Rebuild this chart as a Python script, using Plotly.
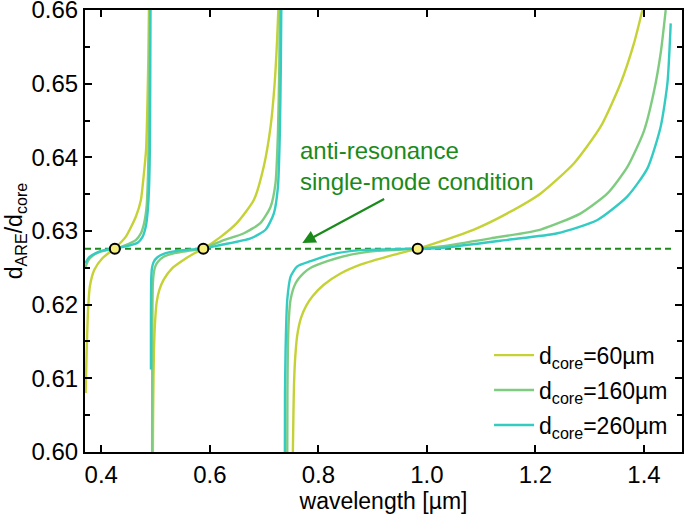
import plotly.graph_objects as go

# ---------------- data ----------------
series_names = ["d<sub>core</sub>=60µm", "d<sub>core</sub>=160µm", "d<sub>core</sub>=260µm"]
series_colors = ["#c5d236", "#7fcc80", "#34cbc3"]

# d_core = 60 µm  (three branches)
wl_60_b1 = [0.3712, 0.3725, 0.3740, 0.3760, 0.3790, 0.3870, 0.4020, 0.4240, 0.4450, 0.4640, 0.4730, 0.4780, 0.4825, 0.4852, 0.4868, 0.4878]
r_60_b1 = [0.6080, 0.6120, 0.6160, 0.6198, 0.6225, 0.6247, 0.6263, 0.6276, 0.6292, 0.6320, 0.6342, 0.6374, 0.6410, 0.6478, 0.6540, 0.6600]
wl_60_b2 = [0.4950, 0.4955, 0.4962, 0.4972, 0.4990, 0.5020, 0.5070, 0.5150, 0.5300, 0.5500, 0.5700, 0.5880, 0.6200, 0.6500, 0.6810, 0.6995, 0.7120, 0.7195, 0.7240, 0.7262]
r_60_b2 = [0.6000, 0.6050, 0.6100, 0.6140, 0.6175, 0.6203, 0.6220, 0.6234, 0.6249, 0.6260, 0.6269, 0.6276, 0.6292, 0.6311, 0.6342, 0.6388, 0.6442, 0.6501, 0.6560, 0.6600]
wl_60_b3 = [0.7530, 0.7540, 0.7552, 0.7575, 0.7610, 0.7680, 0.7780, 0.7900, 0.8100, 0.8400, 0.8800, 0.9300, 0.9830, 1.0253, 1.0867, 1.1482, 1.2096, 1.2711, 1.3203, 1.3571, 1.3816, 1.3971]
r_60_b3 = [0.6000, 0.6050, 0.6094, 0.6130, 0.6158, 0.6182, 0.6199, 0.6212, 0.6227, 0.6242, 0.6255, 0.6266, 0.6276, 0.6286, 0.6302, 0.6324, 0.6351, 0.6392, 0.6442, 0.6501, 0.6555, 0.6600]

# d_core = 160 µm
wl_160_b1 = [0.3705, 0.3760, 0.3850, 0.3950, 0.4100, 0.4250, 0.4450, 0.4640, 0.4730, 0.4790, 0.4835, 0.4860, 0.4875, 0.4885, 0.4895]
r_160_b1 = [0.6250, 0.6260, 0.6267, 0.6271, 0.6274, 0.6276, 0.6281, 0.6288, 0.6297, 0.6311, 0.6333, 0.6374, 0.6430, 0.6510, 0.6600]
wl_160_b2 = [0.4937, 0.4938, 0.4940, 0.4943, 0.4950, 0.4965, 0.4990, 0.5040, 0.5150, 0.5350, 0.5600, 0.5880, 0.6200, 0.6630, 0.6935, 0.7120, 0.7210, 0.7255, 0.7280, 0.7292]
r_160_b2 = [0.6000, 0.6080, 0.6150, 0.6200, 0.6228, 0.6242, 0.6251, 0.6258, 0.6265, 0.6270, 0.6273, 0.6276, 0.6286, 0.6297, 0.6311, 0.6333, 0.6365, 0.6433, 0.6523, 0.6600]
wl_160_b3 = [0.7427, 0.7430, 0.7438, 0.7455, 0.7488, 0.7580, 0.7733, 0.7860, 0.8165, 0.8600, 0.9090, 0.9830, 1.0253, 1.1175, 1.2096, 1.2834, 1.3326, 1.3694, 1.4000, 1.4185, 1.4308, 1.4400]
r_160_b3 = [0.6000, 0.6080, 0.6139, 0.6180, 0.6207, 0.6229, 0.6243, 0.6250, 0.6259, 0.6268, 0.6273, 0.6276, 0.6279, 0.6290, 0.6302, 0.6324, 0.6351, 0.6387, 0.6436, 0.6490, 0.6542, 0.6600]

# d_core = 260 µm
wl_260_b1 = [0.3705, 0.3770, 0.3900, 0.4050, 0.4250, 0.4450, 0.4670, 0.4760, 0.4820, 0.4858, 0.4883, 0.4895, 0.4902, 0.4907]
r_260_b1 = [0.6256, 0.6264, 0.6270, 0.6274, 0.6276, 0.6279, 0.6284, 0.6292, 0.6306, 0.6329, 0.6365, 0.6410, 0.6500, 0.6600]
wl_260_b2 = [0.4915, 0.4915, 0.4917, 0.4922, 0.4935, 0.4965, 0.5030, 0.5150, 0.5400, 0.5650, 0.5880, 0.6200, 0.6750, 0.7030, 0.7180, 0.7255, 0.7290, 0.7308, 0.7317]
r_260_b2 = [0.6112, 0.6170, 0.6215, 0.6238, 0.6250, 0.6258, 0.6264, 0.6269, 0.6273, 0.6275, 0.6276, 0.6281, 0.6290, 0.6302, 0.6324, 0.6360, 0.6433, 0.6523, 0.6600]
wl_260_b3 = [0.7383, 0.7385, 0.7396, 0.7410, 0.7427, 0.7488, 0.7611, 0.7857, 0.8225, 0.8778, 0.9300, 0.9830, 1.0253, 1.1482, 1.2404, 1.3142, 1.3694, 1.4063, 1.4308, 1.4432, 1.4492]
r_260_b3 = [0.6000, 0.6080, 0.6139, 0.6180, 0.6207, 0.6238, 0.6252, 0.6259, 0.6268, 0.6274, 0.6275, 0.6276, 0.6277, 0.6288, 0.6297, 0.6315, 0.6347, 0.6385, 0.6442, 0.6501, 0.6582]

# single-mode condition and crossing points
condition_x = [0.37, 1.45]
condition_y = [0.6276, 0.6276]
crossing_x = [0.425, 0.588, 0.983]
crossing_y = [0.6276, 0.6276, 0.6276]

x_ticks = [0.4, 0.6, 0.8, 1.0, 1.2, 1.4]
x_ticktext = ["0.4", "0.6", "0.8", "1.0", "1.2", "1.4"]
y_ticks = [0.60, 0.61, 0.62, 0.63, 0.64, 0.65, 0.66]
y_ticktext = ["0.60", "0.61", "0.62", "0.63", "0.64", "0.65", "0.66"]

annotation_text = "anti-resonance<br>single-mode condition"

# ---------------- figure ----------------
def joined(*branches):
    xs, ys = [], []
    for bx, by in branches:
        if xs:
            xs.append(None)
            ys.append(None)
        xs.extend(bx)
        ys.extend(by)
    return xs, ys

all_series = [
    joined((wl_60_b1, r_60_b1), (wl_60_b2, r_60_b2), (wl_60_b3, r_60_b3)),
    joined((wl_160_b1, r_160_b1), (wl_160_b2, r_160_b2), (wl_160_b3, r_160_b3)),
    joined((wl_260_b1, r_260_b1), (wl_260_b2, r_260_b2), (wl_260_b3, r_260_b3)),
]

FONT = "Liberation Sans, Arial, sans-serif"
GREEN = "#1a8a1a"

fig = go.Figure()

fig.add_trace(go.Scatter(
    x=condition_x, y=condition_y, mode="lines",
    line=dict(color=GREEN, width=2, dash="6px,4px"),
    showlegend=False, hoverinfo="skip"))

for i, ((xs, ys), name, color) in enumerate(zip(all_series, series_names, series_colors)):
    fig.add_trace(go.Scatter(
        x=xs, y=ys, mode="lines", name=name, legendgroup=f"g{i}",
        line=dict(color=color, width=2.4, shape="spline", smoothing=0.6),
        connectgaps=False))

fig.add_trace(go.Scatter(
    x=crossing_x, y=crossing_y, mode="markers",
    marker=dict(size=10, color="#f6ef7c", line=dict(color="black", width=2)),
    showlegend=False))

fig.add_annotation(
    x=0.7704, y=0.62836, ax=0.9239, ay=0.63446,
    xref="x", yref="y", axref="x", ayref="y",
    text="", showarrow=True, arrowhead=2, arrowsize=1.2, arrowwidth=2.2,
    arrowcolor=GREEN)

fig.add_annotation(
    x=0.7625, y=0.63888, xref="x", yref="y",
    text=annotation_text, showarrow=False,
    xanchor="left", yanchor="middle", align="left",
    font=dict(family=FONT, size=24, color=GREEN))

axis_common = dict(
    showline=True, linecolor="black", linewidth=2, mirror="ticks",
    ticks="inside", tickcolor="black", tickwidth=2, ticklen=7,
    showgrid=False, zeroline=False, automargin=False,
    ticklabeloverflow="allow",
    tickfont=dict(family=FONT, size=24, color="black"),
)

fig.update_xaxes(
    range=[0.37, 1.47], tickvals=x_ticks, ticktext=x_ticktext,
    title=dict(text="wavelength [µm]", font=dict(family=FONT, size=23, color="black"), standoff=4),
    **axis_common)
fig.update_yaxes(
    range=[0.59999, 0.66001], tickvals=y_ticks, ticktext=y_ticktext,
    minor=dict(dtick=0.005, ticks="inside", ticklen=5, tickwidth=2, tickcolor="black"),
    title=dict(text="d<sub>ARE</sub>/d<sub>core</sub>", font=dict(family=FONT, size=23, color="black"), standoff=2),
    **axis_common)

fig.update_layout(
    width=685, height=514,
    margin=dict(l=85, r=3, t=10, b=62),
    paper_bgcolor="white", plot_bgcolor="white",
    font=dict(family=FONT, size=23, color="black"),
    legend=dict(
        x=0.985, y=0.012, xanchor="right", yanchor="bottom",
        bgcolor="rgba(0,0,0,0)", borderwidth=0,
        font=dict(family=FONT, size=23, color="black"),
        tracegroupgap=2, itemwidth=40),
    showlegend=True,
)

fig.write_html("out.html", config={"displayModeBar": False},
               post_script="document.body.style.margin='0';document.body.style.overflow='hidden';")
